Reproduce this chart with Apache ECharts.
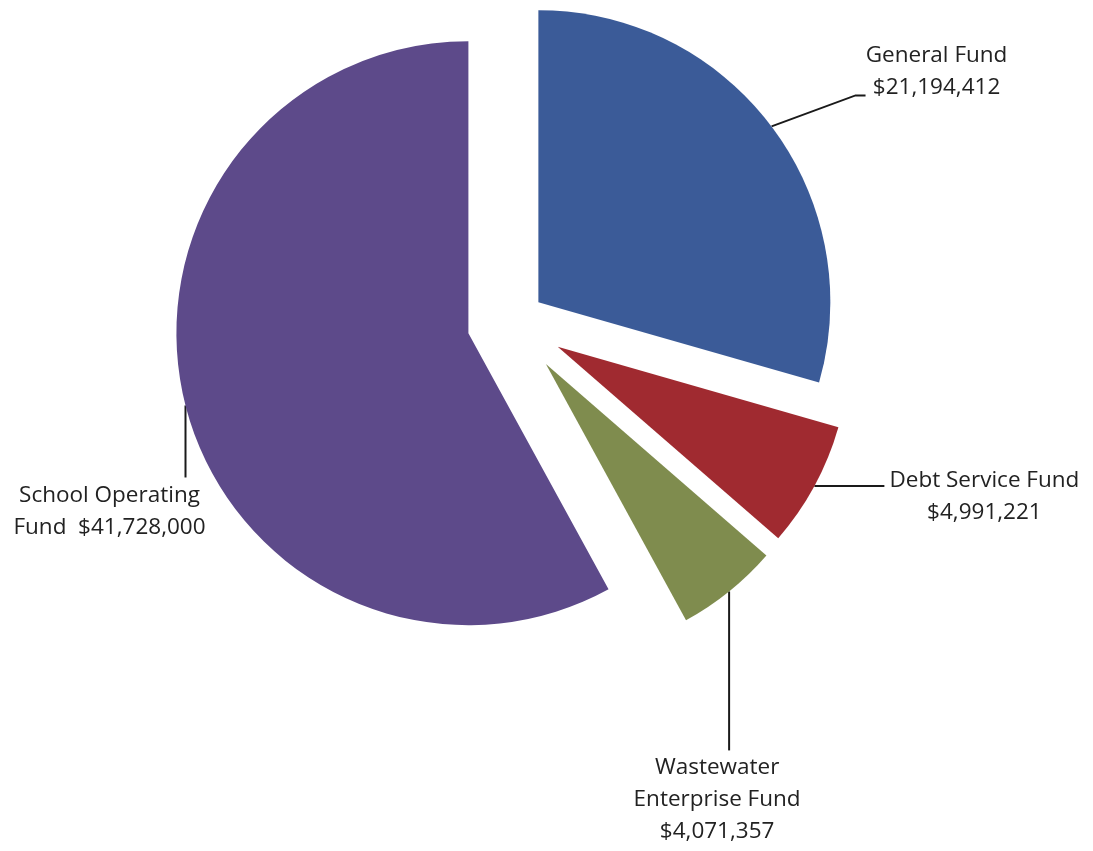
<!DOCTYPE html>
<html>
<head>
<meta charset="utf-8">
<title>Fund Budgets</title>
<script src="https://cdn.jsdelivr.net/npm/echarts@6/dist/echarts.min.js"></script>
<style>
  html, body { margin: 0; padding: 0; background: #ffffff; }
  #chart { width: 1093px; height: 851px; }
</style>
</head>
<body>
<div id="chart"></div>
<script>
// Budget by fund
const funds = ['General Fund', 'Debt Service Fund', 'Wastewater Enterprise Fund', 'School Operating Fund'];
const amounts = [21194412, 4991221, 4071357, 41728000];
const labelHeads = ['General Fund\n', 'Debt Service Fund\n', 'Wastewater\nEnterprise Fund\n', 'School Operating\nFund  '];
const sliceColors = ['#3b5b98', '#a02a30', '#7f8c4e', '#5d4a8a'];

// Layout of the exploded pie
const pieCenter = [512, 322];
const pieRadius = 292;
const explode = [33, 52, 54, 45];
// Leader-line bends and label centres, relative to each slice's outer mid-point
const labelPlacement = [
  { bends: [[84, -31], [94, -31]], text: [165, -55] },
  { bends: [[70, 0]], text: [170, 11] },
  { bends: [[0, 159]], text: [-12, 208] },
  { bends: [[0, 72]], text: [-76, 106] }
];

const total = amounts.reduce((a, b) => a + b, 0);
let running = 0;
// mid angle of each slice, clockwise from 12 o'clock
const midAngles = amounts.map(v => {
  const m = (running + v / 2) / total * 2 * Math.PI;
  running += v;
  return m;
});

const fmtMoney = v => '$' + v.toLocaleString('en-US');

// One pie per fund so each slice can be pulled out by its own distance;
// the other slices of each pie are left invisible.
const series = funds.map((_, i) => {
  const dir = [Math.sin(midAngles[i]), -Math.cos(midAngles[i])];
  const center = [pieCenter[0] + explode[i] * dir[0], pieCenter[1] + explode[i] * dir[1]];
  return {
    type: 'pie',
    silent: true,
    radius: pieRadius,
    center: center,
    startAngle: 90,
    clockwise: true,
    avoidLabelOverlap: false,
    itemStyle: { borderWidth: 0 },
    label: {
      position: 'outside',
      formatter: p => labelHeads[p.dataIndex] + fmtMoney(p.value),
      fontFamily: 'Open Sans',
      fontSize: 22.5,
      lineHeight: 32,
      color: '#222222',
      align: 'center'
    },
    labelLine: {
      show: true,
      length: 20,
      length2: 20,
      smooth: false,
      lineStyle: { color: '#1a1a1a', width: 2 }
    },
    labelLayout: params => {
      const k = params.dataIndex;
      const d = [Math.sin(midAngles[k]), -Math.cos(midAngles[k])];
      const ex = center[0] + pieRadius * d[0];
      const ey = center[1] + pieRadius * d[1];
      const place = labelPlacement[k];
      return {
        x: ex + place.text[0],
        y: ey + place.text[1],
        align: 'center',
        verticalAlign: 'middle',
        labelLinePoints: [[ex, ey]].concat(place.bends.map(b => [ex + b[0], ey + b[1]]))
      };
    },
    data: funds.map((name, j) => j === i
      ? { name, value: amounts[j], itemStyle: { color: sliceColors[j] } }
      : { name, value: amounts[j], itemStyle: { opacity: 0 }, label: { show: false }, labelLine: { show: false } })
  };
});

const chart = echarts.init(document.getElementById('chart'), null, { renderer: 'canvas' });
chart.setOption({
  backgroundColor: '#ffffff',
  animation: false,
  series: series
});
</script>
</body>
</html>
